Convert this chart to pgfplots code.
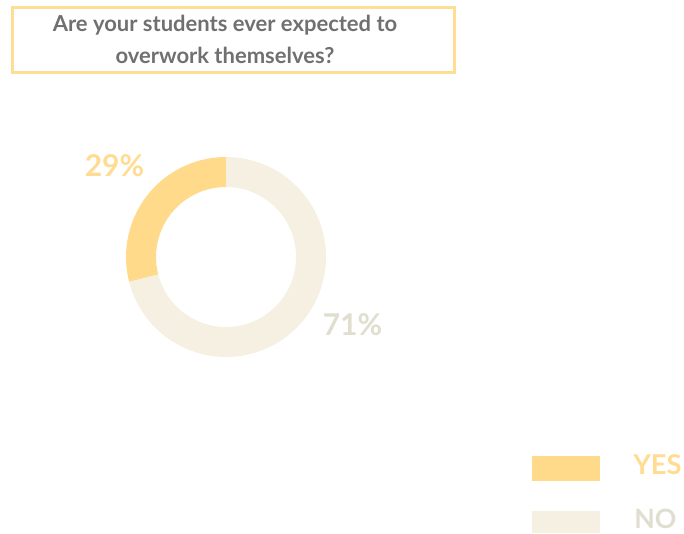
\documentclass[border=0pt]{standalone}
\usepackage{fontspec}
\setmainfont{Lato}
\usepackage{pgfplots}
\usepackage{pgfplotstable}
\pgfplotsset{compat=1.18}
\definecolor{yescol}{HTML}{FFDA8A}
\definecolor{yestext}{HTML}{FFDC92}
\definecolor{nocol}{HTML}{F5F0E2}
\definecolor{notext}{HTML}{E0DECF}
\definecolor{titlegray}{HTML}{707070}
\definecolor{boxcol}{HTML}{FFDD95}
\pgfplotstableread{
label value
YES 29
NO 71
}\donutdata
\begin{document}
\begin{tikzpicture}
\pgfplotstablegetelem{0}{value}\of\donutdata \let\vyes\pgfplotsretval
\pgfplotstablegetelem{1}{value}\of\donutdata \let\vno\pgfplotsretval
\pgfmathsetmacro{\angyes}{90+360*\vyes/(\vyes+\vno)}
\begin{axis}[scale only axis, width=513pt, height=399.75pt,
  xmin=0, xmax=684, ymin=0, ymax=533, y dir=reverse,
  axis lines=none, ticks=none, clip=false]
\path (axis cs:226,257) coordinate (c);
% YES segment
\fill[yescol] (c) ++(90:75pt) arc[start angle=90, end angle=\angyes, radius=75pt]
  -- ++(\angyes:-22.5pt) arc[start angle=\angyes, end angle=90, radius=52.5pt] -- cycle;
% NO segment
\fill[nocol] (c) ++(\angyes:75pt) arc[start angle=\angyes, end angle=450, radius=75pt]
  -- ++(90:-22.5pt) arc[start angle=450, end angle=\angyes, radius=52.5pt] -- cycle;
% labels
\node[font=\bfseries\fontsize{22.5}{26}\selectfont, text=yestext] at (axis cs:114.5,166) {\vyes\%};
\node[font=\bfseries\fontsize{22.5}{26}\selectfont, text=notext] at (axis cs:352.5,325) {\vno\%};
% title
\draw[boxcol, line width=1.6pt] (axis cs:12.5,7.5) rectangle (axis cs:454.5,72.5);
\node[align=center, inner sep=0pt, text=titlegray, font=\bfseries\fontsize{16.5}{24}\selectfont] at (axis cs:225,39.5)
  {Are your students ever expected to\\overwork themselves?};
% legend
\fill[yescol] (axis cs:532,456) rectangle (axis cs:600,481);
\fill[nocol] (axis cs:532,511) rectangle (axis cs:600,533);
\node[anchor=west, inner sep=0pt, font=\bfseries\fontsize{20.5}{22}\selectfont, text=yestext] at (axis cs:633,465) {YES};
\node[anchor=west, inner sep=0pt, font=\bfseries\fontsize{20}{22}\selectfont, text=notext] at (axis cs:634,518.5) {NO};
\end{axis}
\pgfresetboundingbox
\path[use as bounding box] (current axis.south west) rectangle (current axis.north east);
\end{tikzpicture}
\end{document}
